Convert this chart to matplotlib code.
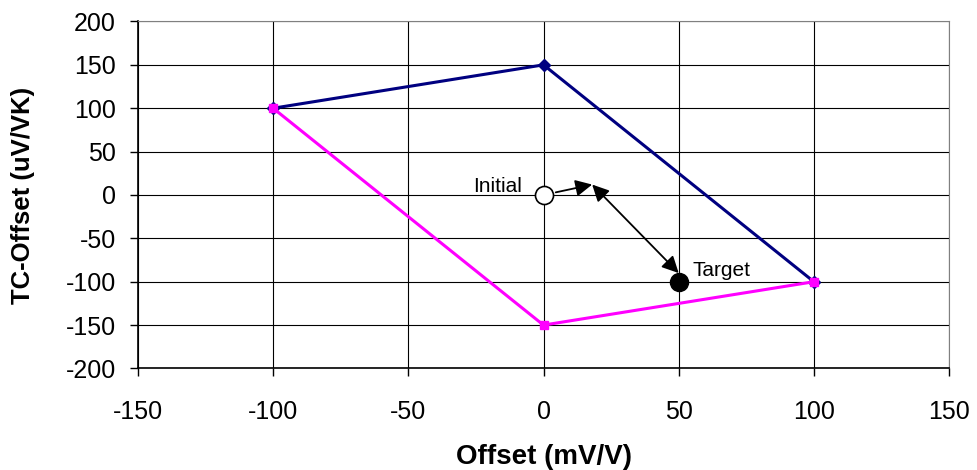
import matplotlib
matplotlib.use('Agg')
import matplotlib.pyplot as plt

plt.rcParams['font.family'] = ['Liberation Sans', 'DejaVu Sans']
plt.rcParams['axes.unicode_minus'] = False

# data
upper_x = [-100, 0, 100]
upper_y = [100, 150, -100]
lower_x = [-100, 0, 100]
lower_y = [100, -150, -100]
initial = (0, 0)
target = (50, -100)
arrow_mid = (18, 12)
arrow_end = (50, -90)
xticks = [-150, -100, -50, 0, 50, 100, 150]
yticks = [-200, -150, -100, -50, 0, 50, 100, 150, 200]

fig = plt.figure(figsize=(9.77, 4.70), dpi=100)
ax = fig.add_axes([0.1412, 0.216, 0.8302, 0.7383])

ax.plot(upper_x, upper_y, color='#000080', lw=2.2, marker='D', ms=6, zorder=3)
ax.plot(lower_x, lower_y, color='#FF00FF', lw=2.2, marker='s', ms=6, zorder=3)

ax.plot(*initial, 'o', ms=13, mfc='white', mec='black', mew=1.2, zorder=5)
ax.plot(*target, 'o', ms=13, mfc='black', mec='black', zorder=5)

# arrows: initial -> turning point, then double-headed to target
ax.annotate('', xy=arrow_mid, xytext=initial,
            arrowprops=dict(arrowstyle='-|>', color='black', lw=1.3,
                            mutation_scale=25, shrinkA=9, shrinkB=0), zorder=4)
ax.annotate('', xy=arrow_end, xytext=arrow_mid,
            arrowprops=dict(arrowstyle='<|-|>', color='black', lw=1.3,
                            mutation_scale=25, shrinkA=0, shrinkB=0), zorder=4)

ax.text(-8, 10, 'Initial', ha='right', va='center', fontsize=15)
ax.text(55, -87, 'Target', ha='left', va='center', fontsize=15)

ax.set_xlim(-150, 150)
ax.set_ylim(-200, 200)
ax.set_xticks(xticks)
ax.set_yticks(yticks)
ax.tick_params(direction='out', length=6, width=1, labelsize=18)
ax.tick_params(axis='y', pad=10)
ax.tick_params(axis='x', pad=17)
ax.grid(True, color='black', lw=0.8)
ax.set_axisbelow(True)
for s in ['top', 'right']:
    ax.spines[s].set_color('#808080')
ax.spines['left'].set_linewidth(1.2)
ax.spines['bottom'].set_linewidth(1.2)

ax.set_xlabel('Offset (mV/V)', fontsize=20, fontweight='bold', labelpad=14)
ax.set_ylabel('TC-Offset (uV/VK)', fontsize=18.5, fontweight='bold', labelpad=22)

fig.savefig('out.png', dpi=100)
